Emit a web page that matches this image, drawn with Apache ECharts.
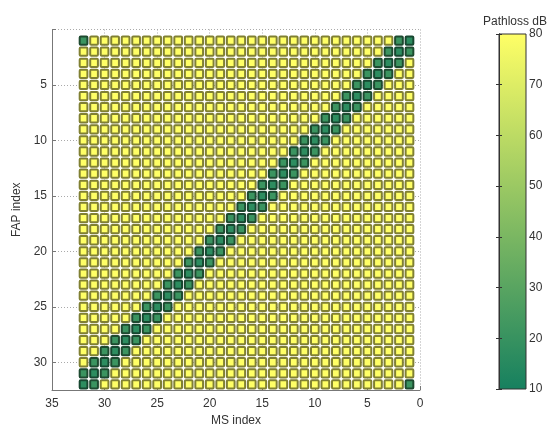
<!DOCTYPE html>
<html>
<head>
<meta charset="utf-8">
<script src="https://cdn.jsdelivr.net/npm/echarts@6/dist/echarts.min.js"></script>
<style>
  html, body { margin: 0; padding: 0; background: #fff; }
  #chart { width: 549px; height: 425px; }
</style>
</head>
<body>
<div id="chart"></div>
<script>
// ---- data ----
const msIndex = [1,2,3,4,5,6,7,8,9,10,11,12,13,14,15,16,17,18,19,20,21,22,23,24,25,26,27,28,29,30,31,32];
const fapIndex = [1,2,3,4,5,6,7,8,9,10,11,12,13,14,15,16,17,18,19,20,21,22,23,24,25,26,27,28,29,30,31,32];
const farLoss = 80;           // pathloss (dB) of every link not listed below
// [FAP index, MS index, pathloss dB] for the near (dark green) links
const nearLinks = [
  [1,32,21],[1,1,17],[1,2,21],
  [2,1,21],[2,2,17],[2,3,21],
  [3,2,21],[3,3,17],[3,4,21],
  [4,3,21],[4,4,17],[4,5,21],
  [5,4,21],[5,5,17],[5,6,21],
  [6,5,21],[6,6,17],[6,7,21],
  [7,6,21],[7,7,17],[7,8,21],
  [8,7,21],[8,8,17],[8,9,21],
  [9,8,21],[9,9,17],[9,10,21],
  [10,9,21],[10,10,17],[10,11,21],
  [11,10,21],[11,11,17],[11,12,21],
  [12,11,21],[12,12,17],[12,13,21],
  [13,12,21],[13,13,17],[13,14,21],
  [14,13,21],[14,14,17],[14,15,21],
  [15,14,21],[15,15,17],[15,16,21],
  [16,15,21],[16,16,17],[16,17,21],
  [17,16,21],[17,17,17],[17,18,21],
  [18,17,21],[18,18,17],[18,19,21],
  [19,18,21],[19,19,17],[19,20,21],
  [20,19,21],[20,20,17],[20,21,21],
  [21,20,21],[21,21,17],[21,22,21],
  [22,21,21],[22,22,17],[22,23,21],
  [23,22,21],[23,23,17],[23,24,21],
  [24,23,21],[24,24,17],[24,25,21],
  [25,24,21],[25,25,17],[25,26,21],
  [26,25,21],[26,26,17],[26,27,21],
  [27,26,21],[27,27,17],[27,28,21],
  [28,27,21],[28,28,17],[28,29,21],
  [29,28,21],[29,29,17],[29,30,21],
  [30,29,21],[30,30,17],[30,31,21],
  [31,30,21],[31,31,17],[31,32,21],
  [32,31,21],[32,32,17],[32,1,21]
];
const colorbarTicks = [10,20,30,40,50,60,70,80];
const colorMin = 10, colorMax = 80;

// ---- build the table ----
const nearMap = {};
nearLinks.forEach(function (d) { nearMap[d[0] + '_' + d[1]] = d[2]; });
const cells = [];
fapIndex.forEach(function (f) {
  msIndex.forEach(function (m) {
    const key = f + '_' + m;
    cells.push([m, f, key in nearMap ? nearMap[key] : farLoss]);
  });
});

const cLow = '#16805f', cHigh = '#ffff66';

function darken(col, k) {
  try {
    const a = echarts.color.parse(col);
    return 'rgb(' + Math.round(a[0] * k) + ',' + Math.round(a[1] * k) + ',' + Math.round(a[2] * k) + ')';
  } catch (e) { return '#5e5a36'; }
}

function renderCell(params, api) {
  const c = api.coord([api.value(0), api.value(1)]);
  const s = api.size([1, 1]);
  const col = api.visual('color');
  const lw = 2;
  const w = s[0] - 0.8 - lw, h = s[1] - 0.8 - lw;
  return {
    type: 'rect',
    shape: { x: c[0] - w / 2, y: c[1] - h / 2, width: w, height: h, r: 1 },
    style: { fill: col, stroke: darken(col, 0.5), lineWidth: lw }
  };
}

function renderColorbar(params, api) {
  const top = api.coord([0, colorMax]);
  const bot = api.coord([0, colorMin]);
  const cs = params.coordSys;
  return {
    type: 'rect',
    shape: { x: cs.x, y: top[1], width: cs.width, height: bot[1] - top[1] },
    style: {
      fill: { type: 'linear', x: 0, y: 1, x2: 0, y2: 0,
              colorStops: [{ offset: 0, color: cLow }, { offset: 1, color: cHigh }] },
      stroke: '#333', lineWidth: 1
    }
  };
}

const axisText = { color: '#333', fontSize: 12, fontFamily: 'Liberation Sans, Arial, sans-serif' };

const chart = echarts.init(document.getElementById('chart'), null, { renderer: 'canvas' });
chart.setOption({
  animation: false,
  backgroundColor: '#fff',
  title: {
    text: 'Pathloss dB', left: 510, top: 11, textAlign: 'center',
    textStyle: { fontSize: 12, fontWeight: 'normal', color: '#333', fontFamily: 'Liberation Sans, Arial, sans-serif' }
  },
  grid: [
    { left: 52, right: 129, top: 29.5, bottom: 35, containLabel: false, outerBoundsMode: 'none' },
    { left: 499, width: 27, top: 34, bottom: 36, containLabel: false, outerBoundsMode: 'none' }
  ],
  visualMap: {
    show: false, type: 'continuous', seriesIndex: 0, dimension: 2,
    min: colorMin, max: colorMax, inRange: { color: [cLow, cHigh] }
  },
  xAxis: [
    {
      gridIndex: 0, type: 'value', inverse: true, min: 0, max: 35, interval: 5,
      name: 'MS index', nameLocation: 'middle', nameGap: 21,
      nameTextStyle: axisText,
      axisLine: { onZero: false, lineStyle: { color: '#777', width: 1 } },
      axisTick: { inside: true, length: 4, lineStyle: { color: '#777' } },
      axisLabel: Object.assign({ margin: 8 }, axisText),
      splitLine: { show: true, lineStyle: { color: '#aaa', type: [1, 2], width: 1 } }
    },
    {
      gridIndex: 1, type: 'value', min: 0, max: 1, show: false
    }
  ],
  yAxis: [
    {
      gridIndex: 0, type: 'value', inverse: true, min: 0, max: 32.5, interval: 5,
      name: 'FAP index', nameLocation: 'middle', nameGap: 22,
      nameTextStyle: axisText,
      axisLine: { show: true, onZero: false, lineStyle: { color: '#777', width: 1 } },
      axisTick: { show: true, inside: true, length: 4, lineStyle: { color: '#777' } },
      axisLabel: Object.assign({
        margin: 5,
        formatter: function (v) { return (v > 0 && v % 5 === 0) ? String(v) : ''; }
      }, axisText),
      splitLine: { show: true, lineStyle: { color: '#aaa', type: [1, 2], width: 1 } }
    },
    {
      gridIndex: 1, type: 'value', position: 'right', min: colorMin, max: colorMax, interval: 10, z: 5,
      axisLine: { show: true, lineStyle: { color: '#333', width: 1 } },
      axisTick: { show: true, inside: true, length: 3, lineStyle: { color: '#333' } },
      axisLabel: Object.assign({ margin: 3 }, axisText),
      splitLine: { show: false }
    },
    {
      gridIndex: 1, type: 'value', position: 'left', min: colorMin, max: colorMax, interval: 10, z: 5,
      axisLine: { show: true, lineStyle: { color: '#333', width: 1 } },
      axisTick: { show: true, inside: true, length: 3, lineStyle: { color: '#333' } },
      axisLabel: { show: false },
      splitLine: { show: false }
    }
  ],
  series: [
    {
      type: 'custom', xAxisIndex: 0, yAxisIndex: 0,
      renderItem: renderCell, data: cells, encode: { x: 0, y: 1 }, clip: true
    },
    {
      type: 'custom', xAxisIndex: 1, yAxisIndex: 1,
      renderItem: renderColorbar, data: [[0.5, colorMax]], encode: { x: 0, y: 1 }, silent: true
    }
  ]
});
</script>
</body>
</html>
